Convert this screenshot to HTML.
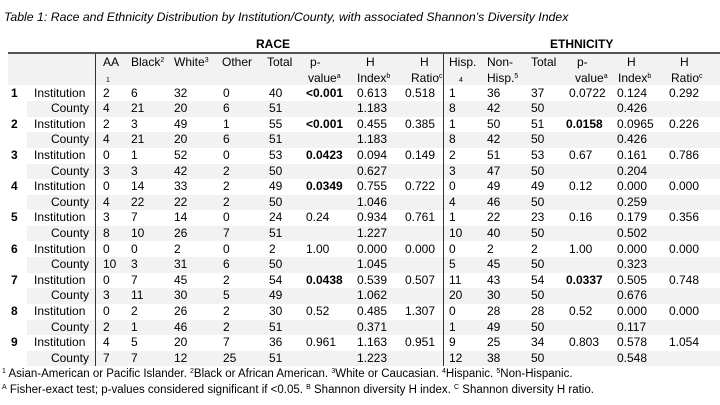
<!DOCTYPE html>
<html><head><meta charset="utf-8"><style>
body{margin:0;width:720px;height:405px;background:#fff;position:relative;overflow:hidden;font-family:"Liberation Sans",sans-serif;color:#000}
.a{position:absolute;white-space:nowrap;font-size:12px;line-height:15.6px}
.b{font-weight:bold}
.t{position:absolute;left:4px;top:10px;font-style:italic;font-size:12.3px}
sup{font-size:7px;vertical-align:4px;line-height:0}
.band{position:absolute;left:27px;width:693px;height:15.6px;background:#f2f2f2}
.hd{position:absolute;left:8px;width:712px;top:54px;height:31px;background:#f2f2f2}
.fn{position:absolute;left:2px;font-size:11.5px}
.v{position:absolute;top:54px;width:1.4px;height:312px;background:#333;z-index:5}
</style></head><body>
<div class="t">Table 1: Race and Ethnicity Distribution by Institution/County, with associated Shannon’s Diversity Index</div>
<div class="a b" style="left:256px;top:37px;font-size:12px">RACE</div>
<div class="a b" style="left:550px;top:37px;font-size:12px">ETHNICITY</div>
<div class="hd"></div>
<div style="position:absolute;left:8px;width:712px;top:52px;height:2px;background:#555"></div>
<div id="hdr"></div>
<div id="rows"></div>
<div class="v" style="left:95px"></div>
<div class="v" style="left:443px"></div>
<div class="fn" style="top:368px"><sup>1</sup> Asian-American or Pacific Islander. <sup>2</sup>Black or African American. <sup>3</sup>White or Caucasian. <sup>4</sup>Hispanic. <sup>5</sup>Non-Hispanic.</div>
<div class="fn" style="top:384px"><sup>A</sup> Fisher-exact test; p-values considered significant if &lt;0.05. <sup>B</sup> Shannon diversity H index. <sup>C</sup> Shannon diversity H ratio.</div>
<script>
var H=[[103,"AA","<span style='font-size:7px;margin-left:3px'>1</span>"],[131,"Black<sup>2</sup>",""],[174,"White<sup>3</sup>",""],[222,"Other",""],[267,"Total",""],[310,"p-","value<sup>a</sup>"],[366,"H","Index<sup>b</sup>"],[420,"H","Ratio<sup>c</sup>"],[449,"Hisp.","<span style='font-size:7px;margin-left:10px'>4</span>"],[487,"Non-","Hisp.<sup>5</sup>"],[531,"Total",""],[577,"p-","value<sup>a</sup>"],[627,"H","Index<sup>b</sup>"],[680,"H","Ratio<sup>c</sup>"]];
var s="";
H.forEach(function(h){var x=h[0];
 if(h[1]=="p-"){s+="<div class='a' style='left:"+(x)+"px;top:55px'>"+h[1]+"</div><div class='a' style='left:"+(x-2)+"px;top:71px'>"+h[2]+"</div>";}
 else if(h[1]=="H"){s+="<div class='a' style='left:"+x+"px;top:55px'>H</div><div class='a' style='left:"+(x-9)+"px;top:71px'>"+h[2]+"</div>";}
 else{s+="<div class='a' style='left:"+x+"px;top:55px'>"+h[1]+"</div><div class='a' style='left:"+x+"px;top:71px'>"+h[2]+"</div>";}
});
document.getElementById("hdr").innerHTML=s;
var X=[103,131,174,223,269,306,357,405,449,487,531,569,617,669];
var D=[
["2","6","32","0","40","*<0.001","0.613","0.518","1","36","37","0.0722","0.124","0.292"],
["4","21","20","6","51","","1.183","","8","42","50","","0.426",""],
["2","3","49","1","55","*<0.001","0.455","0.385","1","50","51","*0.0158","0.0965","0.226"],
["4","21","20","6","51","","1.183","","8","42","50","","0.426",""],
["0","1","52","0","53","*0.0423","0.094","0.149","2","51","53","0.67","0.161","0.786"],
["3","3","42","2","50","","0.627","","3","47","50","","0.204",""],
["0","14","33","2","49","*0.0349","0.755","0.722","0","49","49","0.12","0.000","0.000"],
["4","22","22","2","50","","1.046","","4","46","50","","0.259",""],
["3","7","14","0","24","0.24","0.934","0.761","1","22","23","0.16","0.179","0.356"],
["8","10","26","7","51","","1.227","","10","40","50","","0.502",""],
["0","0","2","0","2","1.00","0.000","0.000","0","2","2","1.00","0.000","0.000"],
["10","3","31","6","50","","1.045","","5","45","50","","0.323",""],
["0","7","45","2","54","*0.0438","0.539","0.507","11","43","54","*0.0337","0.505","0.748"],
["3","11","30","5","49","","1.062","","20","30","50","","0.676",""],
["0","2","26","2","30","0.52","0.485","1.307","0","28","28","0.52","0.000","0.000"],
["2","1","46","2","51","","0.371","","1","49","50","","0.117",""],
["4","5","20","7","36","0.961","1.163","0.951","9","25","34","0.803","0.578","1.054"],
["7","7","12","25","51","","1.223","","12","38","50","","0.548",""]];
s="";
D.forEach(function(r,i){var y=85.5+i*15.6;
 if(i%2)s+="<div class='band' style='top:"+y+"px'></div>";
 if(i%2==0){s+="<div class='a b' style='left:11px;top:"+y+"px'>"+(i/2+1)+"</div><div class='a' style='left:34px;top:"+y+"px'>Institution</div>";}
 else s+="<div class='a' style='right:"+(720-89)+"px;top:"+y+"px'>County</div>";
 r.forEach(function(v,j){if(!v)return;var b=v[0]=="*";if(b)v=v.slice(1);var x=X[j];if(j==11&&b)x=566;
  s+="<div class='a"+(b?" b":"")+"' style='left:"+x+"px;top:"+y+"px'>"+v.replace("<","&lt;")+"</div>";});
});
document.getElementById("rows").innerHTML=s;
</script>
</body></html>
